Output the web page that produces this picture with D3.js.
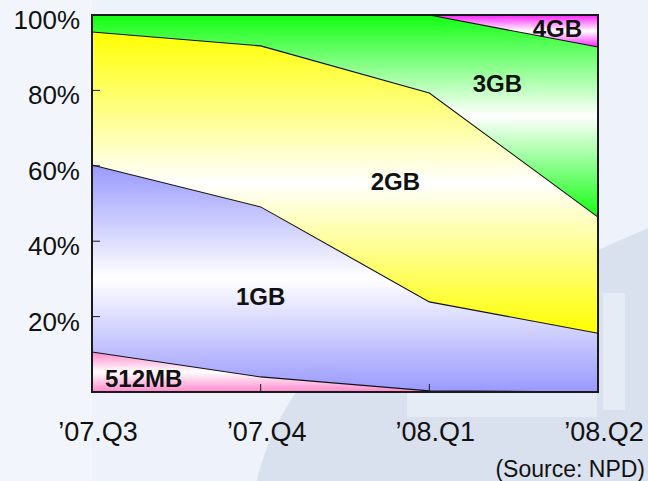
<!DOCTYPE html>
<html>
<head>
<meta charset="utf-8">
<script src="https://cdn.jsdelivr.net/npm/d3@7"></script>
<style>
  html, body { margin: 0; padding: 0; background: #eff4fb; }
  svg { display: block; }
</style>
</head>
<body>
<svg id="chart" width="648" height="481"></svg>
<script>
// ---- data ----
const quarters = ["’07.Q3", "’07.Q4", "’08.Q1", "’08.Q2"];
const seriesNames = ["512MB", "1GB", "2GB", "3GB", "4GB"];
const share512MB = [10.6, 4.0, 0.3, 0.0];
const share1GB   = [49.6, 45.1, 23.6, 15.6];
const share2GB   = [35.3, 42.7, 55.4, 30.8];
const share3GB   = [4.5, 8.2, 20.7, 45.1];
const share4GB   = [0.0, 0.0, 0.0, 8.5];
const yTicks = [20, 40, 60, 80, 100];
const sourceNote = "(Source: NPD)";

const seriesValues = [share512MB, share1GB, share2GB, share3GB, share4GB];
const colors = ["#ff88cc", "#9999ff", "#ffff00", "#11ff11", "#ff22ff"];

const rows = quarters.map((q, i) => {
  const r = { q };
  seriesNames.forEach((s, k) => r[s] = seriesValues[k][i]);
  return r;
});

const svg = d3.select("#chart");
const W = 648, H = 481;
const m = { left: 92, right: 50, top: 15, bottom: 89 };

// ---- background ----
svg.append("rect").attr("width", W).attr("height", H).attr("fill", "#eef3fb");
svg.append("rect").attr("x", 0).attr("y", 0).attr("width", 92).attr("height", H).attr("fill", "#f2f6fc");
svg.append("circle").attr("cx", 510).attr("cy", 540).attr("r", 260).attr("fill", "#d9e0ee");
svg.append("path").attr("d", "M598,250L648,228L648,481L598,481Z").attr("fill", "#d9e0ee");
svg.append("rect").attr("x", 603).attr("y", 293).attr("width", 22).attr("height", 117).attr("fill", "#e6ecf6");
svg.append("rect").attr("x", 407).attr("y", 392).attr("width", 190).attr("height", 25).attr("fill", "#e6ecf6");

const x = d3.scalePoint().domain(quarters).range([m.left, W - m.right]);
const y = d3.scaleLinear().domain([0, 100]).range([H - m.bottom, m.top]);

const stack = d3.stack().keys(seriesNames);
const layers = stack(rows);

// gradients
const defs = svg.append("defs");
seriesNames.forEach((s, k) => {
  const g = defs.append("linearGradient").attr("id", "g" + k)
    .attr("x1", 0).attr("y1", 0).attr("x2", 0).attr("y2", 1);
  g.append("stop").attr("offset", "0%").attr("stop-color", colors[k]);
  g.append("stop").attr("offset", "50%").attr("stop-color", "#ffffff");
  g.append("stop").attr("offset", "100%").attr("stop-color", colors[k]);
});

const area = d3.area()
  .x(d => x(d.data.q))
  .y0(d => y(d[0]))
  .y1(d => y(d[1]));
const topLine = d3.line()
  .x(d => x(d.data.q))
  .y(d => y(d[1]));

const plot = svg.append("g");
plot.selectAll("path.area").data(layers).join("path")
  .attr("class", "area")
  .attr("d", area)
  .attr("fill", (d, i) => `url(#g${i})`);

plot.selectAll("path.line").data(layers).join("path")
  .attr("class", "line")
  .attr("d", topLine)
  .attr("fill", "none")
  .attr("stroke", "#111")
  .attr("stroke-width", 1.1);

// frame
svg.append("rect")
  .attr("x", m.left).attr("y", m.top)
  .attr("width", W - m.right - m.left).attr("height", H - m.bottom - m.top)
  .attr("fill", "none").attr("stroke", "#1a1a1a").attr("stroke-width", 2);

// y axis ticks (inward) and labels
const yAxis = svg.append("g");
yAxis.selectAll("line").data(yTicks.filter(t => t < 100)).join("line")
  .attr("x1", m.left).attr("x2", m.left + 8)
  .attr("y1", d => y(d)).attr("y2", d => y(d))
  .attr("stroke", "#1a1a1a").attr("stroke-width", 1);
yAxis.selectAll("text").data(yTicks).join("text")
  .attr("x", 80).attr("y", d => y(d) + 14)
  .attr("text-anchor", "end")
  .attr("font-family", "Liberation Sans, Arial, sans-serif")
  .attr("font-size", 26)
  .attr("fill", "#111")
  .text(d => d + "%");

// x axis ticks (upward) and labels
const xAxis = svg.append("g");
xAxis.selectAll("line").data(quarters.slice(1)).join("line")
  .attr("x1", d => x(d)).attr("x2", d => x(d))
  .attr("y1", y(0)).attr("y2", y(0) - 8)
  .attr("stroke", "#1a1a1a").attr("stroke-width", 1);
xAxis.selectAll("text").data(quarters).join("text")
  .attr("x", d => x(d) + 6).attr("y", y(0) + 49)
  .attr("text-anchor", "middle")
  .attr("font-family", "Liberation Sans, Arial, sans-serif")
  .attr("font-size", 27)
  .attr("fill", "#111")
  .text(d => d);

// series labels
const labelPos = [
  { s: "512MB", q: 0, dx: 13, v: 1.3, anchor: "start" },
  { s: "1GB", q: 1, dx: 0, v: 23, anchor: "middle" },
  { s: "2GB", q: 2, dx: -34, v: 53.5, anchor: "middle" },
  { s: "3GB", q: 2, dx: 68, v: 79.5, anchor: "middle" },
  { s: "4GB", q: 3, dx: -16, v: 94.2, anchor: "end" }
];
svg.append("g").selectAll("text").data(labelPos).join("text")
  .attr("x", d => x(quarters[d.q]) + d.dx)
  .attr("y", d => y(d.v))
  .attr("text-anchor", d => d.anchor)
  .attr("font-family", "Liberation Sans, Arial, sans-serif")
  .attr("font-weight", "bold")
  .attr("font-size", 24)
  .attr("fill", "#111")
  .text(d => d.s);

svg.append("text")
  .attr("x", 645).attr("y", 477)
  .attr("text-anchor", "end")
  .attr("font-family", "Liberation Sans, Arial, sans-serif")
  .attr("font-size", 23)
  .attr("fill", "#111")
  .text(sourceNote);
</script>
</body>
</html>
